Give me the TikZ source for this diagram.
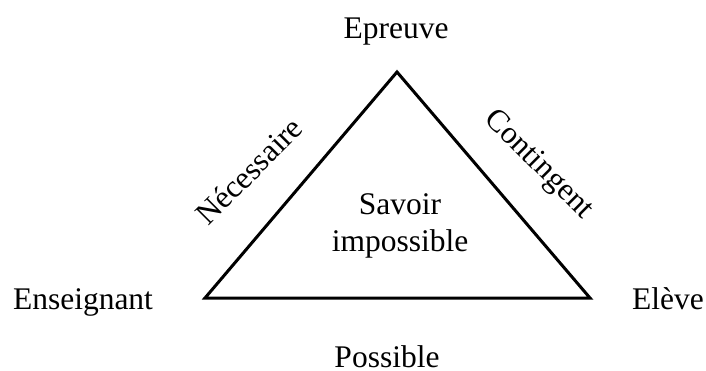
\documentclass[tikz,border=0pt]{standalone}
\usepackage{fontspec}
\setmainfont{Liberation Serif}
\usetikzlibrary{calc}

\tikzset{
  lbl/.style={font=\fontsize{31.5}{37}\selectfont, inner sep=0pt},
}

\begin{document}
\begin{tikzpicture}[x=1pt,y=1pt]
			\useasboundingbox (0,0) rectangle (706,370);
			\coordinate (top) at (397,298);
			\coordinate (ll) at (205,72);
			\coordinate (lr) at (590,72);
			
			\draw [line width=3pt] (ll) -- (top) -- (lr) -- cycle;
			
			\node[lbl, anchor=base] (epreuve) at (396,331) {Epreuve};
			\node[lbl, anchor=base] (enseignant) at (83,61) {Enseignant};
			\node[lbl, anchor=base] (eleve) at (668,61) {Elève};
			\node[lbl, anchor=base] (possible) at (387,2.5) {Possible};
			\node[lbl, rotate=45] (necessaire) at (249,199) {Nécessaire};
			\node[lbl, rotate=-45] (contingent) at (538,205) {Contingent};
			\node[lbl, align=center] (savoir) at (400,144) {Savoir\\impossible};
		\end{tikzpicture}
\end{document}
